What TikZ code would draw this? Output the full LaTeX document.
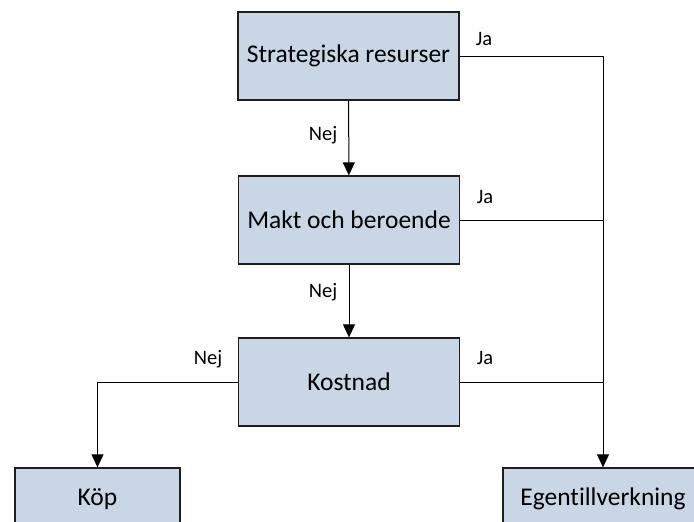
\documentclass[tikz,border=0pt]{standalone}
\usepackage{fontspec}
\setmainfont{Carlito}[Ligatures={NoCommon}]
\usetikzlibrary{arrows.meta}
\definecolor{boxfill}{RGB}{200,214,229}
\definecolor{boxline}{RGB}{30,30,30}
\begin{document}
\begin{tikzpicture}[x=1pt,y=-1pt,
  decision/.style={draw=boxline,line width=1.3pt,fill=boxfill,minimum width=221pt,minimum height=88pt,inner sep=0pt,font=\fontsize{25.5}{30}\selectfont},
  outcome/.style={draw=boxline,line width=1.3pt,fill=boxfill,minimum height=62pt,inner sep=0pt,font=\fontsize{25.5}{30}\selectfont},
  flow/.style={line width=1pt,-{Triangle[length=13pt,width=12pt]}},
  branch/.style={line width=1pt},
  answer/.style={font=\fontsize{20.5}{24}\selectfont,inner sep=0pt}]
\useasboundingbox (0,0) rectangle (694,522);

% decision boxes
\node[decision] (strat) at (348.5,56) {Strategiska resurser};
\node[decision] (makt) at (349,220) {Makt och beroende};
\node[decision] (kost) at (349,382) {Kostnad};

% outcome boxes
\node[outcome,minimum width=165pt] (kop) at (97.5,499) {Köp};
\node[outcome,minimum width=200pt] (egen) at (603,499) {Egentillverkning};

% "Nej" path down the middle
\draw[flow] (strat) -- (makt);
\draw[flow] (makt) -- (kost);
\draw[flow] (kost.west) -| (kop.north);

% "Ja" paths to the right
\draw[flow] (strat.east) -- (strat.east -| egen.north) -- (egen.north);
\draw[branch] (makt.east) -- (makt.east -| egen.north);
\draw[branch] (kost.east) -- (kost.east -| egen.north);

% answer labels
\node[answer] (nej1) at (323,135) {Nej};
\node[answer] (nej2) at (323,292) {Nej};
\node[answer] (nej3) at (208,359) {Nej};
\node[answer] (ja1) at (484,39) {Ja};
\node[answer] (ja2) at (485,197) {Ja};
\node[answer] (ja3) at (485,358) {Ja};
\end{tikzpicture}
\end{document}
